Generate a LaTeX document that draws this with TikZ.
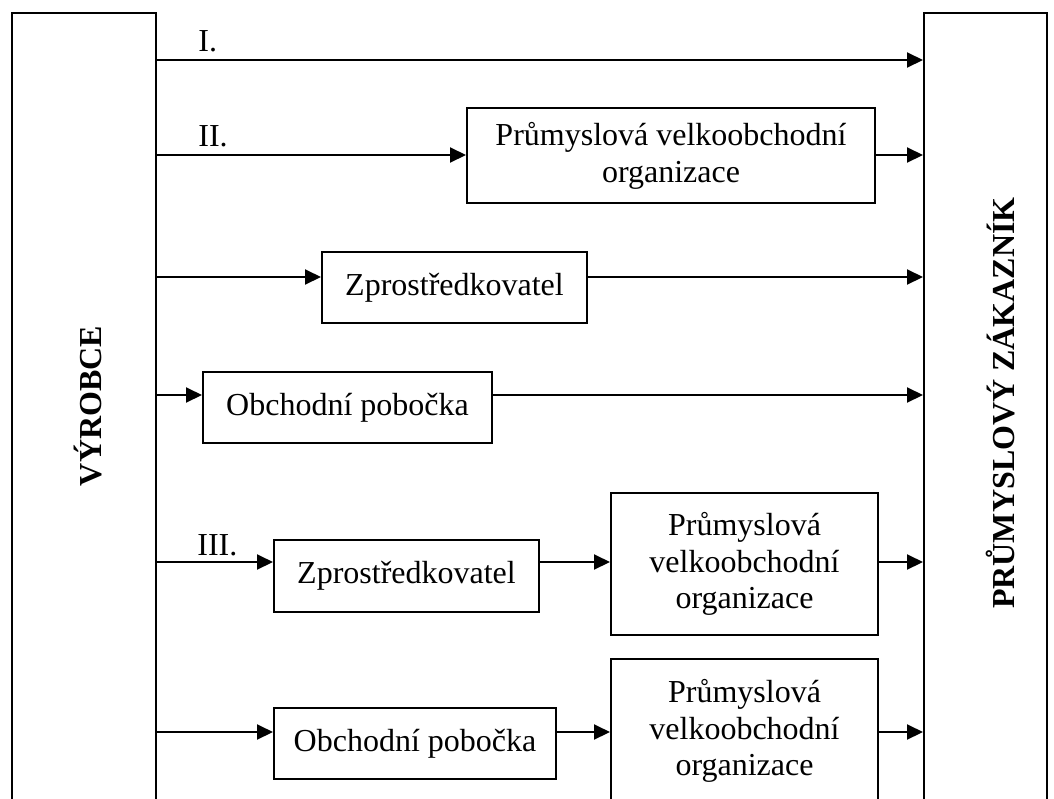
\documentclass[tikz,border=0pt]{standalone}
\usepackage{fontspec}
\setmainfont{Liberation Serif}
\usetikzlibrary{positioning,arrows.meta}
\tikzstyle{box}   = [rectangle, draw=black, line width=1pt, align=center, inner sep=0pt,
                     font=\fontsize{16}{18.4}\selectfont]
\tikzstyle{side}  = [rectangle, draw=black, line width=1pt, anchor=north west, inner sep=0pt]
\tikzstyle{sidetext} = [rotate=90, inner sep=0pt, font=\fontsize{16}{18.4}\selectfont\bfseries]
\tikzstyle{lbl}   = [anchor=base west, inner sep=0pt, font=\fontsize{16}{18.4}\selectfont]
\tikzstyle{arrow} = [line width=1pt, -{Triangle[length=8pt,width=7.5pt]}]

\begin{document}
\begin{tikzpicture}[x=0.5pt,y=-0.5pt]
    \useasboundingbox (0,0) rectangle (1054,798);
    \clip (0,0) rectangle (1054,798);

    % the two sides
    \node[side, minimum width=72pt, minimum height=410pt] (vyrobce) at (11,12) {};
    \node[side, minimum width=61.5pt, minimum height=410pt] (zakaznik) at (923,12) {};
    \node[sidetext] (vyrobceLbl) at (88,406) {VÝROBCE};
    \node[sidetext] (zakaznikLbl) at (1001,403) {PRŮMYSLOVÝ ZÁKAZNÍK};

    % heights of the rows
    \coordinate (r1) at (0,60);
    \coordinate (r2) at (0,155);
    \coordinate (r3) at (0,277);
    \coordinate (r4) at (0,395);
    \coordinate (r5) at (0,562);
    \coordinate (r6) at (0,732);

    % middlemen
    \node[box, minimum width=204pt, minimum height=47.5pt] (pvoA) at (671,155.5)
        {Průmyslová velkoobchodní\\organizace};
    \node[box, minimum width=132.5pt, minimum height=35.5pt] (zprA) at (454.5,287.5) {Zprostředkovatel};
    \node[box, minimum width=144.5pt, minimum height=35.5pt] (obchA) at (347.5,407.5) {Obchodní pobočka};
    \node[box, minimum width=132.5pt, minimum height=36pt] (zprB) at (406.5,576) {Zprostředkovatel};
    \node[box, minimum width=133.5pt, minimum height=71pt] (pvoB) at (744.5,564)
        {Průmyslová\\velkoobchodní\\organizace};
    \node[box, minimum width=141pt, minimum height=35.5pt] (obchB) at (415,743.5) {Obchodní pobočka};
    \node[box, minimum width=133.5pt, minimum height=72pt] (pvoC) at (744.5,731)
        {Průmyslová\\velkoobchodní\\organizace};

    % channel labels
    \node[lbl] (lblI) at (198,51) {I.};
    \node[lbl] (lblII) at (198,146) {II.};
    \node[lbl] (lblIII) at (197,555) {III.};

    % channels
    \draw[arrow] (vyrobce.east |- r1) -- (zakaznik.west |- r1);
    \draw[arrow] (vyrobce.east |- r2) -- (pvoA.west |- r2);
    \draw[arrow] (pvoA.east |- r2) -- (zakaznik.west |- r2);
    \draw[arrow] (vyrobce.east |- r3) -- (zprA.west |- r3);
    \draw[arrow] (zprA.east |- r3) -- (zakaznik.west |- r3);
    \draw[arrow] (vyrobce.east |- r4) -- (obchA.west |- r4);
    \draw[arrow] (obchA.east |- r4) -- (zakaznik.west |- r4);
    \draw[arrow] (vyrobce.east |- r5) -- (zprB.west |- r5);
    \draw[arrow] (zprB.east |- r5) -- (pvoB.west |- r5);
    \draw[arrow] (pvoB.east |- r5) -- (zakaznik.west |- r5);
    \draw[arrow] (vyrobce.east |- r6) -- (obchB.west |- r6);
    \draw[arrow] (obchB.east |- r6) -- (pvoC.west |- r6);
    \draw[arrow] (pvoC.east |- r6) -- (zakaznik.west |- r6);
\end{tikzpicture}
\end{document}
